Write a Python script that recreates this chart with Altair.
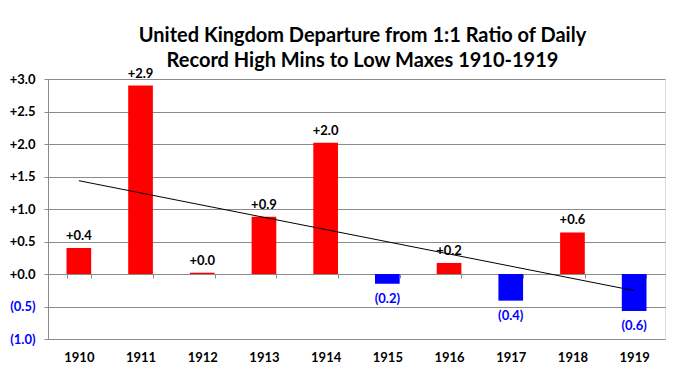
import altair as alt
import pandas as pd

years = [1910, 1911, 1912, 1913, 1914, 1915, 1916, 1917, 1918, 1919]
values = [0.40, 2.90, 0.02, 0.88, 2.02, -0.15, 0.17, -0.41, 0.64, -0.57]
labels = ["+0.4", "+2.9", "+0.0", "+0.9", "+2.0", "(0.2)", "+0.2", "(0.4)", "+0.6", "(0.6)"]
y_ticks = [-1.0, -0.5, 0.0, 0.5, 1.0, 1.5, 2.0, 2.5, 3.0]
title_lines = ["United Kingdom Departure from 1:1 Ratio of Daily",
               "Record High Mins to Low Maxes 1910-1919"]

df = pd.DataFrame({"year": years, "value": values, "label": labels})

FONT = "Lato"
GRID = "#8a8a8a"

x = alt.X(
    "year:O",
    title=None,
    scale=alt.Scale(paddingInner=0.6, paddingOuter=0.3),
    axis=alt.Axis(
        orient="bottom",
        offset=-65,
        labelAngle=0,
        labelPadding=73,
        labelFont=FONT,
        labelFontSize=13,
        labelFontWeight="bold",
        labelColor="black",
        domainColor=GRID,
        tickColor=GRID,
        tickSize=4,
        tickBand="extent",
        grid=False,
    ),
)

y = alt.Y(
    "value:Q",
    title=None,
    scale=alt.Scale(domain=[-1, 3], nice=False, zero=False),
    axis=alt.Axis(
        values=y_ticks,
        labelOverlap=False,
        labelExpr="datum.value < 0 ? '(' + format(-datum.value, '.1f') + ')' : '+' + format(datum.value, '.1f')",
        labelColor={"condition": {"test": "datum.value < 0", "value": "#0000FF"}, "value": "black"},
        labelFont=FONT,
        labelFontSize=13,
        labelFontWeight="bold",
        labelPadding=9,
        domainColor=GRID,
        tickColor=GRID,
        tickSize=4,
        grid=True,
        gridColor=GRID,
        gridOpacity=1,
    ),
)

base = alt.Chart(df)

bars = base.mark_bar().encode(
    x=x,
    y=y,
    y2=alt.datum(0),
    color=alt.condition("datum.value >= 0", alt.value("#FF0000"), alt.value("#0000FF")),
)

pos_text = base.transform_filter("datum.value >= 0").mark_text(
    baseline="bottom", dy=-5, font=FONT, fontSize=13, fontWeight="bold", color="black"
).encode(x=x, y=y, text="label:N")

neg_text = base.transform_filter("datum.value < 0").mark_text(
    baseline="top", dy=9, font=FONT, fontSize=13, fontWeight="bold", color="#0000FF"
).encode(x=x, y=y, text="label:N")

trend = base.transform_regression("year", "value").transform_filter(
    "datum.year % 1 === 0"
).mark_line(color="black", strokeWidth=1).encode(x=x, y=y)

chart = alt.layer(bars, trend, pos_text, neg_text).properties(
    width=617,
    height=260,
    autosize=alt.AutoSizeParams(type="none"),
    padding={"left": 40, "top": 71, "right": 8, "bottom": 30},
    title=alt.TitleParams(
        text=title_lines,
        font=FONT,
        fontSize=20,
        fontWeight="bold",
        color="black",
        anchor="middle",
        frame="group",
        lineHeight=25,
        dx=6,
        dy=9,
        offset=6,
    ),
).configure_view(stroke=None).configure(background="white")

chart.save("out.html", embed_options={"renderer": "svg", "actions": False})
